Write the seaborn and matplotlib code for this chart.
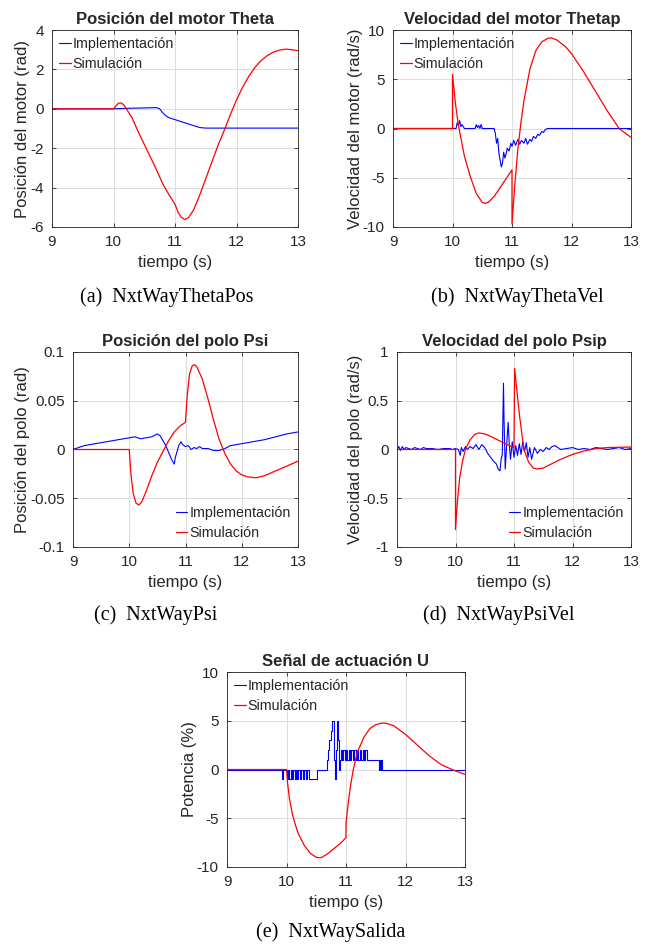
import matplotlib
matplotlib.use("Agg")
import matplotlib.pyplot as plt
import seaborn as sns

# ---- data ----
# (a) motor position theta
a_sim_t = [9, 10.0, 10.04, 10.08, 10.12, 10.16, 10.2, 10.25, 10.3, 10.4, 10.5, 10.6, 10.7, 10.8,
           10.9, 11.0, 11.05, 11.1, 11.16, 11.22, 11.3, 11.4, 11.5, 11.6, 11.7, 11.8, 11.9, 12.0,
           12.1, 12.2, 12.3, 12.4, 12.5, 12.6, 12.7, 12.8, 12.9, 13.0]
a_sim_v = [0, 0, 0.15, 0.28, 0.3, 0.22, 0.05, -0.2, -0.45, -1.15, -1.8, -2.45, -3.1, -3.8,
           -4.35, -4.85, -5.25, -5.5, -5.62, -5.52, -5.15, -4.4, -3.55, -2.7, -1.85, -1.1, -0.3,
           0.45, 1.1, 1.65, 2.1, 2.45, 2.7, 2.88, 2.98, 3.03, 3.0, 2.95]
a_imp_t = [9, 10.0, 10.3, 10.7, 10.75, 10.8, 10.85, 10.9, 11.0, 11.1, 11.2, 11.3, 11.4, 11.5, 13.0]
a_imp_v = [0, 0, 0.03, 0.06, 0.0, -0.2, -0.35, -0.45, -0.55, -0.65, -0.75, -0.85, -0.95, -0.98, -0.98]

# (b) motor velocity thetap
b_sim_t = [9, 10.0, 10.0, 10.05, 10.1, 10.2, 10.3, 10.4, 10.5, 10.55, 10.6, 10.7, 10.8, 10.9,
           11.0, 11.0, 11.05, 11.1, 11.15, 11.2, 11.3, 11.4, 11.5, 11.6, 11.66, 11.75, 11.9,
           12.0, 12.2, 12.4, 12.6, 12.8, 13.0]
b_sim_v = [0, 0, 5.5, 2.5, 0.3, -2.8, -4.9, -6.6, -7.5, -7.6, -7.5, -6.9, -6.0, -5.1,
           -4.2, -9.7, -5.5, -2.0, 0.6, 2.8, 6.0, 7.9, 8.8, 9.15, 9.2, 9.0, 8.3,
           7.6, 5.8, 3.8, 1.8, 0.0, -0.9]
b_imp_t = [9, 10.06, 10.08, 10.1, 10.12, 10.14, 10.16, 10.2, 10.38, 10.4, 10.42, 10.44, 10.46,
           10.48, 10.5, 10.7, 10.72, 10.74, 10.76, 10.78, 10.8, 10.82, 10.84, 10.86, 10.88, 10.9,
           10.92, 10.95, 10.98, 11.0, 11.03, 11.06, 11.1, 11.13, 11.16, 11.2, 11.23, 11.26, 11.3,
           11.33, 11.36, 11.4, 11.43, 11.46, 11.5, 11.53, 11.56, 11.6, 13.0]
b_imp_v = [0, 0, 0.6, 0.3, 0.8, 0.2, 0.4, 0, 0, 0.4, 0.1, 0.3, 0.0,
           0.4, 0, 0, -0.5, -1.5, -1.0, -2.5, -3.2, -3.9, -3.5, -2.4, -3.0, -2.6,
           -2.0, -2.3, -1.5, -1.8, -1.2, -1.7, -1.1, -1.6, -1.2, -1.5, -1.0, -1.6, -1.1,
           -1.3, -0.8, -1.0, -0.6, -0.7, -0.3, -0.4, -0.1, 0, 0]

# (c) pole angle psi
c_sim_t = [9, 10.0, 10.03, 10.07, 10.12, 10.17, 10.22, 10.3, 10.4, 10.5, 10.6, 10.7, 10.8, 10.9,
           11.0, 11.0, 11.03, 11.07, 11.12, 11.16, 11.2, 11.3, 11.4, 11.5, 11.6, 11.7, 11.8,
           11.9, 12.0, 12.1, 12.25, 12.4, 12.6, 12.8, 13.0]
c_sim_v = [0, 0, -0.025, -0.045, -0.055, -0.057, -0.054, -0.043, -0.027, -0.013, -0.002, 0.009,
           0.018, 0.024, 0.028, 0.029, 0.055, 0.077, 0.086, 0.087, 0.085, 0.072, 0.052, 0.03,
           0.01, -0.004, -0.015, -0.022, -0.026, -0.028, -0.029, -0.027, -0.022, -0.017, -0.012]
c_imp_t = [9, 9.2, 9.4, 9.6, 9.8, 10.0, 10.1, 10.2, 10.3, 10.4, 10.5, 10.55, 10.6, 10.65, 10.7,
           10.75, 10.8, 10.82, 10.85, 10.88, 10.92, 10.95, 11.0, 11.05, 11.1, 11.15, 11.2, 11.25,
           11.3, 11.4, 11.5, 11.6, 11.7, 11.8, 11.9, 12.0, 12.2, 12.4, 12.6, 12.8, 13.0]
c_imp_v = [0, 0.004, 0.006, 0.008, 0.010, 0.012, 0.013, 0.011, 0.012, 0.013, 0.016, 0.014, 0.009,
           0.004, -0.003, -0.01, -0.015, -0.008, -0.002, 0.004, 0.008, 0.005, 0.003, 0.004, 0.0,
           0.002, 0.001, 0.003, 0.001, 0.001, -0.001, -0.001, 0.001, 0.004, 0.005, 0.006, 0.008,
           0.010, 0.013, 0.016, 0.018]

# (d) pole velocity psip
d_sim_t = [9, 10.0, 10.0, 10.03, 10.07, 10.12, 10.17, 10.25, 10.33, 10.4, 10.5, 10.6, 10.7, 10.8,
           10.9, 11.0, 11.01, 11.05, 11.1, 11.17, 11.25, 11.33, 11.4, 11.5, 11.6, 11.8, 12.0,
           12.2, 12.4, 12.6, 13.0]
d_sim_v = [0, 0, -0.82, -0.55, -0.3, -0.12, 0.0, 0.1, 0.155, 0.17, 0.16, 0.135, 0.105, 0.075,
           0.045, 0.02, 0.83, 0.6, 0.32, 0.0, -0.13, -0.19, -0.2, -0.19, -0.16, -0.1, -0.05,
           -0.015, 0.01, 0.02, 0.025]
d_imp_t = [9.0, 9.03, 9.06, 9.09, 9.12, 9.15, 9.2, 9.25, 9.3, 9.35, 9.4, 9.45, 9.5, 9.6, 9.7,
           9.8, 9.9, 9.95, 10.0, 10.05, 10.08, 10.1, 10.13, 10.17, 10.2, 10.25, 10.3, 10.35,
           10.4, 10.45, 10.5, 10.55, 10.6, 10.65, 10.7, 10.73, 10.76, 10.78, 10.8, 10.82,
           10.83, 10.85, 10.87, 10.9, 10.92, 10.94, 10.97, 11.0, 11.03, 11.06, 11.09, 11.12,
           11.15, 11.18, 11.21, 11.24, 11.27, 11.3, 11.35, 11.4, 11.45, 11.5, 11.55, 11.6,
           11.65, 11.7, 11.75, 11.8, 11.9, 12.0, 12.1, 12.2, 12.3, 12.4, 12.5, 12.6, 12.7,
           12.8, 12.9, 13.0]
d_imp_v = [0.0, 0.03, -0.01, 0.03, 0.0, 0.02, 0.01, 0.0, 0.02, 0.01, 0.0, 0.02, 0.01, 0.01, 0.0,
           0.01, 0.01, 0.0, 0.01, 0.0, -0.06, 0.02, -0.02, 0.03, 0.0, 0.03, 0.01, 0.05,
           0.0, 0.05, 0.02, -0.04, -0.08, -0.12, -0.15, -0.2, -0.22, -0.1, -0.05, 0.68,
           0.3, -0.2, 0.0, 0.28, 0.05, -0.1, 0.08, -0.08, 0.04, -0.06, 0.06, -0.05,
           0.08, -0.02, 0.07, -0.08, 0.02, -0.1, 0.02, -0.04, 0.0, -0.02, 0.02, 0.0,
           0.03, 0.04, 0.02, 0.0, 0.01, 0.02, 0.0, 0.01, 0.0, 0.02, 0.01, 0.0, 0.01,
           0.02, 0.0, 0.01]

# (e) control signal U (implementation is quantized -> step plot)
e_sim_t = [9, 10.0, 10.02, 10.05, 10.1, 10.15, 10.2, 10.3, 10.4, 10.5, 10.55, 10.6, 10.7, 10.8,
           10.9, 11.0, 11.0, 11.04, 11.08, 11.12, 11.16, 11.2, 11.3, 11.4, 11.5, 11.6, 11.65,
           11.7, 11.8, 12.0, 12.2, 12.4, 12.6, 12.8, 13.0]
e_sim_v = [0, 0, -1.5, -3.0, -4.6, -5.7, -6.6, -7.8, -8.6, -9.0, -9.05, -9.0, -8.6, -8.1,
           -7.6, -7.0, -5.5, -3.3, -1.5, -0.1, 1.0, 1.9, 3.3, 4.2, 4.6, 4.75, 4.75,
           4.7, 4.5, 3.6, 2.5, 1.4, 0.5, -0.05, -0.5]
e_imp_t = [9.0, 9.92, 9.935, 10.0, 10.025, 10.045, 10.07, 10.09, 10.11, 10.135, 10.16, 10.18,
           10.2, 10.225, 10.25, 10.27, 10.3, 10.32, 10.34, 10.37, 10.52, 10.68, 10.7, 10.72,
           10.74, 10.76, 10.79, 10.8, 10.81, 10.82, 10.83, 10.84, 10.85, 10.87, 10.88, 10.89,
           10.9, 10.91, 10.93, 10.95, 10.975, 11.0, 11.02, 11.045, 11.07, 11.09, 11.115, 11.14,
           11.16, 11.185, 11.21, 11.23, 11.255, 11.28, 11.3, 11.325, 11.35, 11.55, 11.565,
           11.58, 11.595, 11.61, 13.0]
e_imp_v = [0, -1, 0, -1, 0, -1, 0, -1, 0, -1, 0, -1,
           0, -1, 0, -1, 0, -1, 0, -1, 0, 1, 2, 3,
           4, 5, 3, 1, 0, -1, 0, 2, 5, 3, 1, 0,
           1, 2, 1, 2, 1, 2, 1, 2, 1, 2, 1, 2,
           1, 2, 1, 2, 1, 2, 1, 2, 1, 0, 1,
           0, 1, 0, 0]

x_ticks = [9, 10, 11, 12, 13]

sns.set_theme(style="whitegrid")
plt.rcParams['font.family'] = ['Liberation Sans', 'DejaVu Sans']
plt.rcParams['axes.unicode_minus'] = False
plt.rcParams['axes.edgecolor'] = '#262626'
plt.rcParams['grid.color'] = '#dedede'
plt.rcParams['grid.linewidth'] = 0.8
plt.rcParams['xtick.color'] = '#262626'
plt.rcParams['ytick.color'] = '#262626'
plt.rcParams['axes.labelcolor'] = '#262626'

fig = plt.figure(figsize=(6.52, 9.51), dpi=100)
W, H = 652, 951


def add_ax(left, top, right, bottom):
    return fig.add_axes([left / W, 1 - bottom / H, (right - left) / W, (bottom - top) / H])


def draw_panel(ax, sim_t, sim_v, imp_t, imp_v, title, ylabel, yticks, ylabels, loc, steps=False):
    kw = {'drawstyle': 'steps-post'} if steps else {}
    sns.lineplot(x=imp_t, y=imp_v, ax=ax, color='#0000ff', lw=0.8, estimator=None,
                 sort=False, label='Implementación', **kw)
    sns.lineplot(x=sim_t, y=sim_v, ax=ax, color='#ff0000', lw=0.9, estimator=None,
                 sort=False, label='Simulación')
    ax.set_xlim(9, 13)
    ax.set_ylim(yticks[0], yticks[-1])
    ax.set_xticks(x_ticks)
    ax.set_xticklabels([str(v) for v in x_ticks])
    ax.set_yticks(yticks)
    ax.set_yticklabels(ylabels)
    ax.tick_params(direction='in', length=3, width=0.6, labelsize=11, pad=6,
                   top=True, right=True, bottom=True, left=True)
    ax.set_title(title, fontsize=12, fontweight='bold', pad=4)
    ax.set_xlabel('tiempo (s)', fontsize=12, labelpad=4)
    ax.set_ylabel(ylabel, fontsize=12, labelpad=0)
    for s in ax.spines.values():
        s.set_visible(True)
        s.set_color('#262626')
        s.set_linewidth(0.6)
    ax.legend(loc=loc, frameon=False, fontsize=10.3, handlelength=0.8, handletextpad=0.15,
              borderaxespad=0.3, labelspacing=0.4, borderpad=0.2)


ax_a = add_ax(52, 30, 298, 227)
draw_panel(ax_a, a_sim_t, a_sim_v, a_imp_t, a_imp_v, 'Posición del motor Theta',
           'Posición del motor (rad)', [-6, -4, -2, 0, 2, 4], ['-6', '-4', '-2', '0', '2', '4'],
           'upper left')

ax_b = add_ax(393, 30, 631, 227)
draw_panel(ax_b, b_sim_t, b_sim_v, b_imp_t, b_imp_v, 'Velocidad del motor Thetap',
           'Velocidad del motor (rad/s)', [-10, -5, 0, 5, 10], ['-10', '-5', '0', '5', '10'],
           'upper left')

ax_c = add_ax(73, 352, 298, 547)
draw_panel(ax_c, c_sim_t, c_sim_v, c_imp_t, c_imp_v, 'Posición del polo Psi',
           'Posición del polo (rad)', [-0.1, -0.05, 0, 0.05, 0.1],
           ['-0.1', '-0.05', '0', '0.05', '0.1'], 'lower right')

ax_d = add_ax(397, 352, 631, 547)
draw_panel(ax_d, d_sim_t, d_sim_v, d_imp_t, d_imp_v, 'Velocidad del polo Psip',
           'Velocidad del polo (rad/s)', [-1, -0.5, 0, 0.5, 1],
           ['-1', '-0.5', '0', '0.5', '1'], 'lower right')

ax_e = add_ax(227, 672, 465, 867)
draw_panel(ax_e, e_sim_t, e_sim_v, e_imp_t, e_imp_v, 'Señal de actuación U',
           'Potencia (%)', [-10, -5, 0, 5, 10], ['-10', '-5', '0', '5', '10'],
           'upper left', steps=True)

captions = [('(a)  NxtWayThetaPos', 167, 297), ('(b)  NxtWayThetaVel', 517, 297),
            ('(c)  NxtWayPsi', 156, 615), ('(d)  NxtWayPsiVel', 499, 615),
            ('(e)  NxtWaySalida', 331, 932)]
for txt, cx, cy in captions:
    fig.text(cx / W, 1 - cy / H, txt, ha='center', va='center', fontsize=14.5,
             family=['Liberation Serif', 'DejaVu Serif'], color='black')

fig.savefig('out.png', dpi=100)
